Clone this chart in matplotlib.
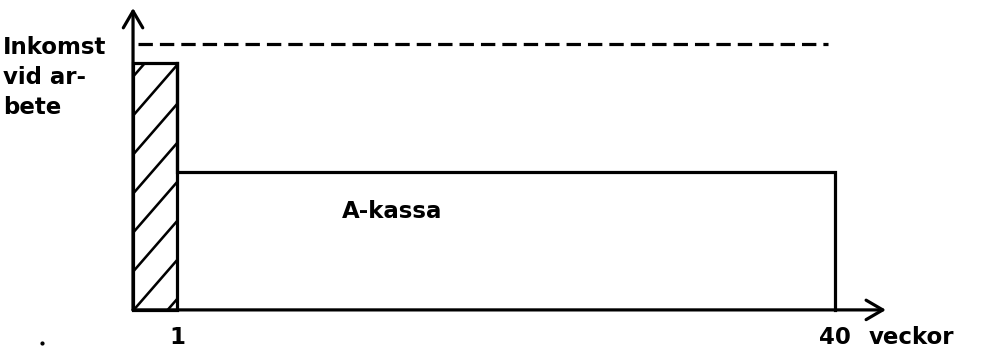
import matplotlib
matplotlib.use("Agg")
import matplotlib.pyplot as plt
from matplotlib.patches import Rectangle

# data (schematic): week edges and income levels
week_edges = [0, 2.5, 40]          # hatched first week, then A-kassa up to week 40
tick_pos = [2.5, 40]
tick_labels = ["1", "40"]
income_work = 100                  # dashed line: income when working
first_week = 93                    # hatched bar
akassa_level = 52                  # A-kassa level

fig = plt.figure(figsize=(9.83, 3.53), dpi=100)
ax = fig.add_axes([0, 0, 1, 1])
ax.set_xlim(-7.58, 48.43)
ax.set_ylim(-16.2, 116.5)
ax.axis("off")

lw = 2.3
font = dict(family="DejaVu Sans", fontweight="bold", fontsize=16.5, color="black")

# axes with open arrows
arrow = dict(arrowstyle="->,head_length=0.6,head_width=0.35", lw=lw,
             color="black", shrinkA=0, shrinkB=0, mutation_scale=20)
ax.annotate("", xy=(42.9, 0), xytext=(0, 0), arrowprops=arrow)
ax.annotate("", xy=(0, 113.5), xytext=(0, 0), arrowprops=arrow)

# dashed line income at work
ax.plot([week_edges[0] + 0.3, week_edges[2] - 0.4], [income_work, income_work],
        color="black", lw=lw, dashes=(4.5, 2.2))

# hatched first week
bar = Rectangle((week_edges[0], 0), week_edges[1] - week_edges[0], first_week,
                fill=False, lw=lw, edgecolor="black")
ax.add_patch(bar)
# hatch lines, clipped to the bar
slope = 1.15 * 17.55 / 2.66        # pixel slope converted to data units
step = 39 / 2.66                   # vertical spacing in data units
w = week_edges[1] - week_edges[0]
y0 = -slope * w + 4
while y0 < first_week:
    ln, = ax.plot([week_edges[0], week_edges[1]], [y0, y0 + slope * w],
                  color="black", lw=lw * 0.8)
    ln.set_clip_path(bar)
    y0 += step

# A-kassa block
ax.plot([week_edges[1], week_edges[1], week_edges[2], week_edges[2]],
        [first_week, akassa_level, akassa_level, 0], color="black", lw=lw,
        solid_joinstyle="miter")
ax.text(11.9, 37, "A-kassa", ha="left", va="center", **font)

# labels
for p, lab in zip(tick_pos, tick_labels):
    ax.text(p, -10.3, lab, ha="center", va="center", **font)
ax.text(41.9, -10.3, "veckor", ha="left", va="center", **font)
ax.text(-7.4, 103, "Inkomst\nvid ar-\nbete", ha="left", va="top",
        linespacing=1.38, **font)
ax.plot([-5.2], [-12.5], marker="o", ms=2, color="black")

fig.savefig("out.png", dpi=100)
